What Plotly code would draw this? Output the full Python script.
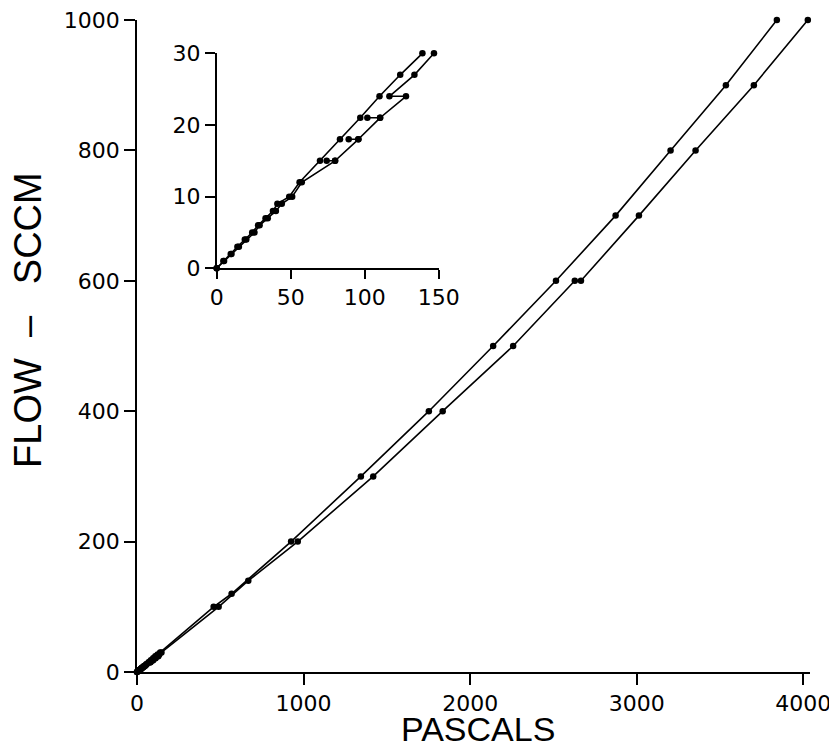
import plotly.graph_objects as go

# ---- data ----
# Series A (left / upper curve)
a_flow = [0, 1, 2, 3, 4, 5, 6, 7, 8, 9, 10, 12, 15, 18, 21, 24, 27, 30,
          100, 120, 200, 300, 400, 500, 600, 700, 800, 900, 1000]
a_pascal = [0, 4.5, 9.5, 14, 19, 24, 28, 33, 38, 41, 49, 56, 69.8, 83.3, 97, 110, 124, 139,
            460, 568, 925, 1344, 1752, 2138, 2515, 2873, 3203, 3535, 3841]

# Series B (right / lower curve, with repeated readings at some flows)
b_flow = [0, 1, 2, 3, 4, 5, 6, 7, 8, 9, 10, 12, 15, 15, 15, 18, 18, 18, 21, 21, 21, 24, 24, 27, 30,
          100, 140, 200, 300, 400, 500, 600, 600, 700, 800, 900, 1000]
b_pascal = [0, 5, 10, 15, 20, 25.5, 29, 34.5, 40, 44, 51, 57.5, 80, 74.3, 80, 95.7, 89.2, 95.7,
            110.4, 101.8, 110.4, 127.9, 116.7, 133.6, 146.8,
            490, 668, 965, 1418, 1835, 2258, 2628, 2665, 3013, 3353, 3703, 4027]

inset_max_flow = 30

main_xticks = [0, 1000, 2000, 3000, 4000]
main_yticks = [0, 200, 400, 600, 800, 1000]
inset_xticks = [0, 50, 100, 150]
inset_yticks = [0, 10, 20, 30]

# inset subsets
ai = [i for i, f in enumerate(a_flow) if f <= inset_max_flow]
bi = [i for i, f in enumerate(b_flow) if f <= inset_max_flow]

line_style = dict(color="black", width=1.6)
marker_style = dict(color="black", size=6.5, symbol="circle")

fig = go.Figure()
for xs, ys in [(a_pascal, a_flow), (b_pascal, b_flow)]:
    fig.add_trace(go.Scatter(x=xs, y=ys, mode="lines+markers", line=line_style,
                             marker=marker_style, cliponaxis=False, showlegend=False,
                             xaxis="x", yaxis="y"))
for idx, xs, ys in [(ai, a_pascal, a_flow), (bi, b_pascal, b_flow)]:
    fig.add_trace(go.Scatter(x=[xs[i] for i in idx], y=[ys[i] for i in idx],
                             mode="lines+markers", line=line_style,
                             marker=marker_style,
                             cliponaxis=False, showlegend=False,
                             xaxis="x2", yaxis="y2"))

tick_font = dict(family="DejaVu Sans", size=22, color="black")
axis_common = dict(showline=True, linecolor="black", linewidth=1.6, ticks="outside",
                   tickcolor="black", tickwidth=1.6, showgrid=False, zeroline=False,
                   tickfont=tick_font, mirror=False, automargin=False,
                   ticklabeloverflow="allow")

fig.update_layout(
    width=829, height=739,
    margin=dict(l=129, r=27, t=12, b=75),
    paper_bgcolor="white", plot_bgcolor="white",
    xaxis=dict(range=[0, 4040], tickvals=main_xticks, ticklen=11, **axis_common),
    yaxis=dict(range=[0, 1000], tickvals=main_yticks, ticklen=11, **axis_common),
    xaxis2=dict(domain=[0.1184, 0.4483], anchor="y2", range=[0, 150],
                tickvals=inset_xticks, ticklen=9, **axis_common),
    yaxis2=dict(domain=[0.6192, 0.9489], anchor="x2", range=[0, 30],
                tickvals=inset_yticks, ticklen=10, **axis_common),
    annotations=[
        dict(text="PASCALS", xref="paper", yref="paper", x=0.5067, y=-0.0874,
             showarrow=False, xanchor="center", yanchor="middle",
             font=dict(family="Liberation Sans", size=34, color="black")),
        dict(text="FLOW&nbsp;&nbsp;–&nbsp;&nbsp;&nbsp;SCCM", xref="paper", yref="paper",
             x=-0.162, y=0.54, textangle=-90,
             showarrow=False, xanchor="center", yanchor="middle",
             font=dict(family="Liberation Sans", size=38, color="black")),
    ],
)

fig.write_html("out.html")
